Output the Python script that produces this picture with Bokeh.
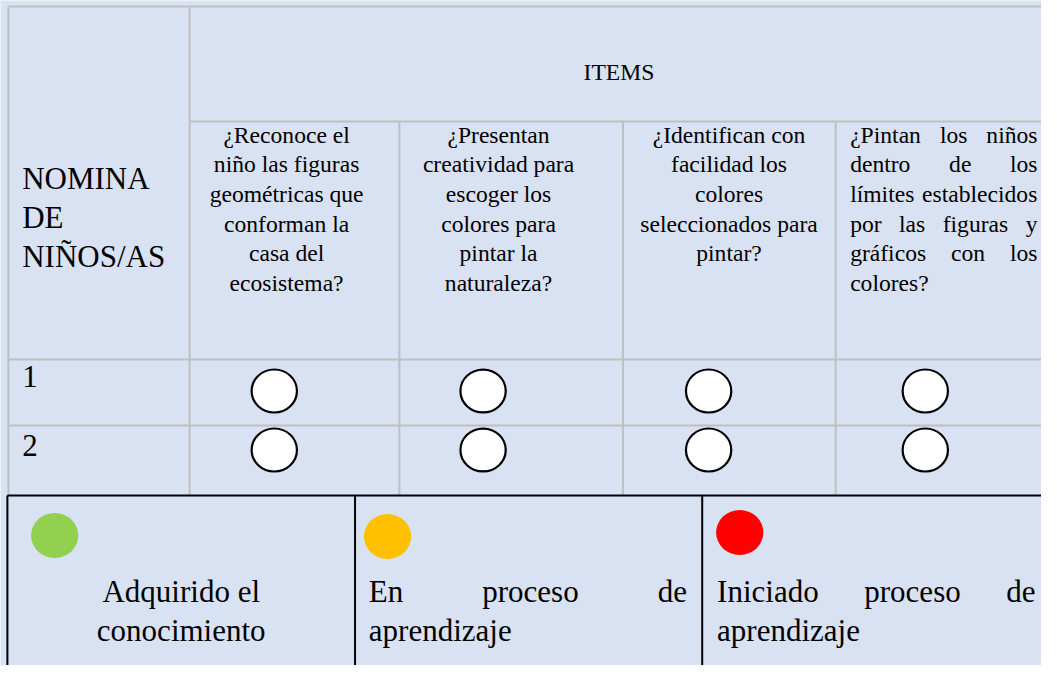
from bokeh.plotting import figure
from bokeh.models import Range1d
from bokeh.embed import file_html
from bokeh.resources import INLINE
from bokeh.core.properties import value

# ---------------- data (texts) ----------------
header_left = ["NOMINA", "DE", "NIÑOS/AS"]
header_items = "ITEMS"
questions = [
    ["¿Reconoce el", "niño las figuras", "geométricas que", "conforman la", "casa del", "ecosistema?"],
    ["¿Presentan", "creatividad para", "escoger los", "colores para", "pintar la", "naturaleza?"],
    ["¿Identifican con", "facilidad los", "colores", "seleccionados para", "pintar?"],
    ["¿Pintan los niños", "dentro de los", "límites establecidos", "por las figuras y", "gráficos con los", "colores?"],
]
children = ["1", "2"]
legend_labels = [["Adquirido el", "conocimiento"],
                 ["En proceso de", "aprendizaje"],
                 ["Iniciado proceso de", "aprendizaje"]]
legend_colors = ["#92D050", "#FFC000", "#FF0000"]

# ---------------- layout ----------------
X0, X1 = 0, 1057
Y0, Y1 = 0, 665
PW, PH = 1041, 665
sx = PW / (X1 - X0)
BG = "#D9E2F3"
GRID = "#BFBFBF"
FONT = value("Liberation Serif")

col_edges = [8, 192, 405, 632, 848, 1057]
row_top, items_bottom, head_bottom = 6, 121, 359
row_edges = [359, 425, 495]
leg_edges = [7, 360, 712.5, 1057]

q_center = [290.5, 505.7, 739.7]
q_just = (862.7, 1053.0)
q_base0, q_step = 143.0, 29.6
small_fs, big_fs = 24.0, 31.5
big_step = 39.3
BASE_SHIFT = 0.36  # baseline correction, fraction of font size

circ_x = [278, 490, 719, 939]
circ_y = [390.5, 449.5]
circ_w, circ_h = 46, 43

leg_circ = [(55, 535), (393, 536), (750.6, 532)]
leg_circ_w, leg_circ_h = 48, 45
leg_base = [602, 641]
leg_just = [(374, 697), (727.6, 1051)]

W = {' ': 250, '¿': 444, '?': 444, 'P': 556, 'E': 611, 'I': 333,
     'a': 444, 'b': 500, 'c': 444, 'd': 500, 'e': 444, 'f': 333, 'g': 500,
     'h': 500, 'i': 278, 'j': 278, 'l': 278, 'm': 778, 'n': 500, 'o': 500,
     'p': 500, 'q': 500, 'r': 333, 's': 389, 't': 278, 'u': 500, 'v': 500,
     'y': 500, 'z': 444, 'á': 444, 'í': 278, 'ñ': 500, 'é': 444}


def tw(s, fs):
    return sum(W.get(ch, 500) for ch in s) * fs / 1000.0


def justify(line, left, right, fs):
    words = line.split()
    if len(words) == 1:
        return [left], words
    widths = [tw(w_, fs) for w_ in words]
    gap = (right - left - sum(widths)) / (len(words) - 1)
    xs, x = [], left
    for w_ in widths:
        xs.append(x)
        x += w_ + gap
    return xs, words


def px(fs):
    return value("%.1fpx" % (fs * sx))


def by(y, fs):
    return y - BASE_SHIFT * fs


p = figure(width=PW, height=PH, x_range=Range1d(X0, X1), y_range=Range1d(Y1, Y0),
           output_backend="svg", toolbar_location=None, min_border=0)
p.axis.visible = False
p.grid.visible = False
p.outline_line_color = None
p.background_fill_color = BG
p.border_fill_color = BG

# ---------------- grey table lines ----------------
gx0, gy0, gx1, gy1 = [], [], [], []
def seg(a, b, c, d):
    gx0.append(a); gy0.append(b); gx1.append(c); gy1.append(d)

seg(col_edges[0], row_top, col_edges[-1], row_top)
seg(col_edges[0], row_top, col_edges[0], row_edges[-1])
seg(col_edges[1], row_top, col_edges[1], row_edges[-1])
seg(col_edges[1], items_bottom, col_edges[-1], items_bottom)
for cx in col_edges[2:5]:
    seg(cx, items_bottom, cx, row_edges[-1])
for ry in row_edges[:2]:
    seg(col_edges[0], ry, col_edges[-1], ry)
p.segment(x0=gx0, y0=gy0, x1=gx1, y1=gy1, line_color=GRID, line_width=2)

# ---------------- legend box (black) ----------------
bx0 = [leg_edges[0]] + leg_edges[:3]
by0 = [row_edges[-1]] + [row_edges[-1]] * 3
bx1 = [leg_edges[-1]] + leg_edges[:3]
by1 = [row_edges[-1]] + [Y1 + 20] * 3
p.segment(x0=bx0, y0=by0, x1=bx1, y1=by1, line_color="black", line_width=2)

# ---------------- header texts ----------------
p.text(x=[22] * 3, y=[by(189 + i * big_step, big_fs) for i in range(3)], text=header_left,
       text_font=FONT, text_font_size=px(big_fs), text_align="left",
       text_baseline="alphabetic", text_color="black")
p.text(x=[628], y=[by(80, small_fs)], text=[header_items], text_font=FONT,
       text_font_size=px(small_fs), text_align="center",
       text_baseline="alphabetic", text_color="black")

for ci in range(3):
    lines = questions[ci]
    p.text(x=[q_center[ci]] * len(lines),
           y=[by(q_base0 + i * q_step, small_fs) for i in range(len(lines))],
           text=lines, text_font=FONT, text_font_size=px(small_fs),
           text_align="center", text_baseline="alphabetic", text_color="black")

jx, jy, jt = [], [], []
lines4 = questions[3]
for i, ln in enumerate(lines4):
    if i == len(lines4) - 1:
        xs, ws = [q_just[0]], [ln]
    else:
        xs, ws = justify(ln, q_just[0], q_just[1], small_fs)
    jx += xs; jy += [by(q_base0 + i * q_step, small_fs)] * len(xs); jt += ws
p.text(x=jx, y=jy, text=jt, text_font=FONT, text_font_size=px(small_fs),
       text_align="left", text_baseline="alphabetic", text_color="black")

# ---------------- row labels and circles ----------------
p.text(x=[22, 22], y=[by(387, big_fs), by(456, big_fs)], text=children, text_font=FONT,
       text_font_size=px(big_fs), text_align="left", text_baseline="alphabetic",
       text_color="black")
ex = [x for y in circ_y for x in circ_x]
ey = [y for y in circ_y for x in circ_x]
p.ellipse(x=ex, y=ey, width=circ_w, height=circ_h, fill_color="white",
          line_color="black", line_width=2.2)

# ---------------- legend ----------------
p.ellipse(x=[c[0] for c in leg_circ], y=[c[1] for c in leg_circ],
          width=leg_circ_w, height=leg_circ_h, fill_color=legend_colors, line_color=None)

cell1_center = (leg_edges[0] + leg_edges[1]) / 2
p.text(x=[cell1_center] * 2, y=[by(b, big_fs) for b in leg_base], text=legend_labels[0],
       text_font=FONT, text_font_size=px(big_fs), text_align="center",
       text_baseline="alphabetic", text_color="black")
lx, ly, lt = [], [], []
for k in range(2):
    l, r = leg_just[k]
    first, second = legend_labels[k + 1]
    xs, ws = justify(first, l, r, big_fs)
    lx += xs + [l]
    ly += [by(leg_base[0], big_fs)] * len(xs) + [by(leg_base[1], big_fs)]
    lt += ws + [second]
p.text(x=lx, y=ly, text=lt, text_font=FONT, text_font_size=px(big_fs),
       text_align="left", text_baseline="alphabetic", text_color="black")

open("out.html", "w").write(file_html(p, INLINE))
